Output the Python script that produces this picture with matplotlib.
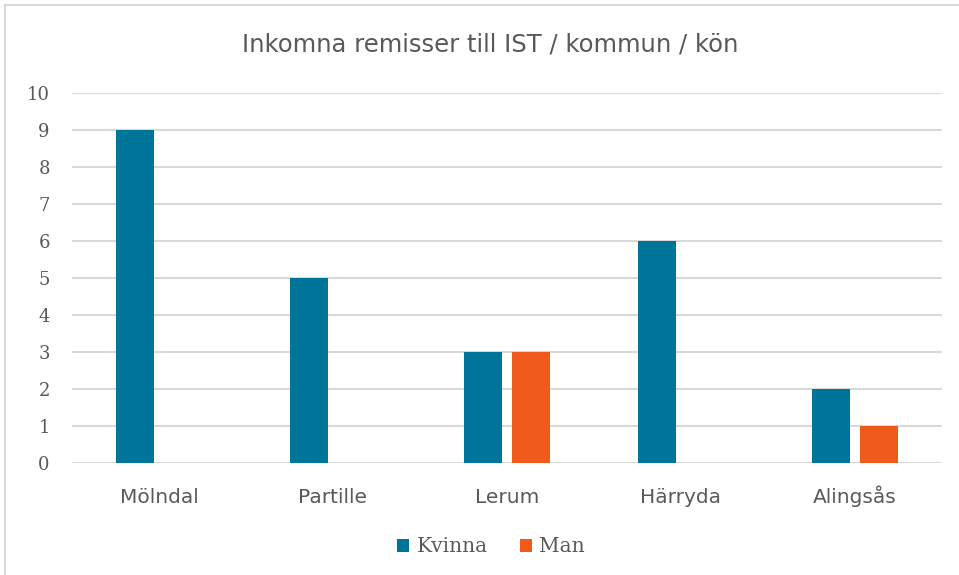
import matplotlib.pyplot as plt
import numpy as np

kommuner = ["Mölndal", "Partille", "Lerum", "Härryda", "Alingsås"]
kvinna = [9, 5, 3, 6, 2]
man = [0, 0, 3, 0, 1]
y_ticks = list(range(0, 11))

TEAL = "#00759a"
ORANGE = "#f05a1a"
GRAY = "#595959"

fig = plt.figure(figsize=(9.59, 5.75), dpi=100)
ax = fig.add_axes([72 / 959, 1 - 463 / 575, 870 / 959, 370 / 575])

x = np.arange(len(kommuner))
w = 0.218
off = 0.14
ax.bar(x - off, kvinna, width=w, color=TEAL, label="Kvinna", zorder=3)
ax.bar(x + off, [v if v > 0 else np.nan for v in man], width=w, color=ORANGE, label="Man", zorder=3)

ax.set_xlim(-0.5, len(kommuner) - 0.5)
ax.set_ylim(0, 10)
ax.set_yticks(y_ticks)
ax.set_yticklabels([str(t) for t in y_ticks], family="DejaVu Serif", fontsize=13, color=GRAY)
ax.set_xticks(x)
ax.set_xticklabels(kommuner, fontsize=14.5, color=GRAY, va="baseline")
ax.tick_params(axis="both", length=0)
ax.tick_params(axis="y", pad=16)
ax.tick_params(axis="x", pad=28.5)

ax.grid(axis="y", color="#d9d9d9", linewidth=1.5, zorder=0)
for s in ax.spines.values():
    s.set_visible(False)

fig.text(490 / 959, 1 - 45 / 575, "Inkomna remisser till IST / kommun / kön",
         ha="center", va="center", fontsize=17.5, color=GRAY)

leg = fig.legend(loc="center", bbox_to_anchor=(491 / 959, 1 - 547 / 575), ncol=2,
                 frameon=False, prop={"family": "DejaVu Serif", "size": 14.5},
                 handlelength=0.6, handleheight=0.6, handletextpad=0.35, columnspacing=1.6)
for t in leg.get_texts():
    t.set_color(GRAY)

# chart border (top and left visible)
fig.add_artist(plt.Line2D([5 / 959, 5 / 959], [0, 1 - 5 / 575], color="#d9d9d9", linewidth=1.5))
fig.add_artist(plt.Line2D([5 / 959, 1], [1 - 5 / 575, 1 - 5 / 575], color="#d9d9d9", linewidth=1.5))

fig.savefig("out.png", dpi=100)
